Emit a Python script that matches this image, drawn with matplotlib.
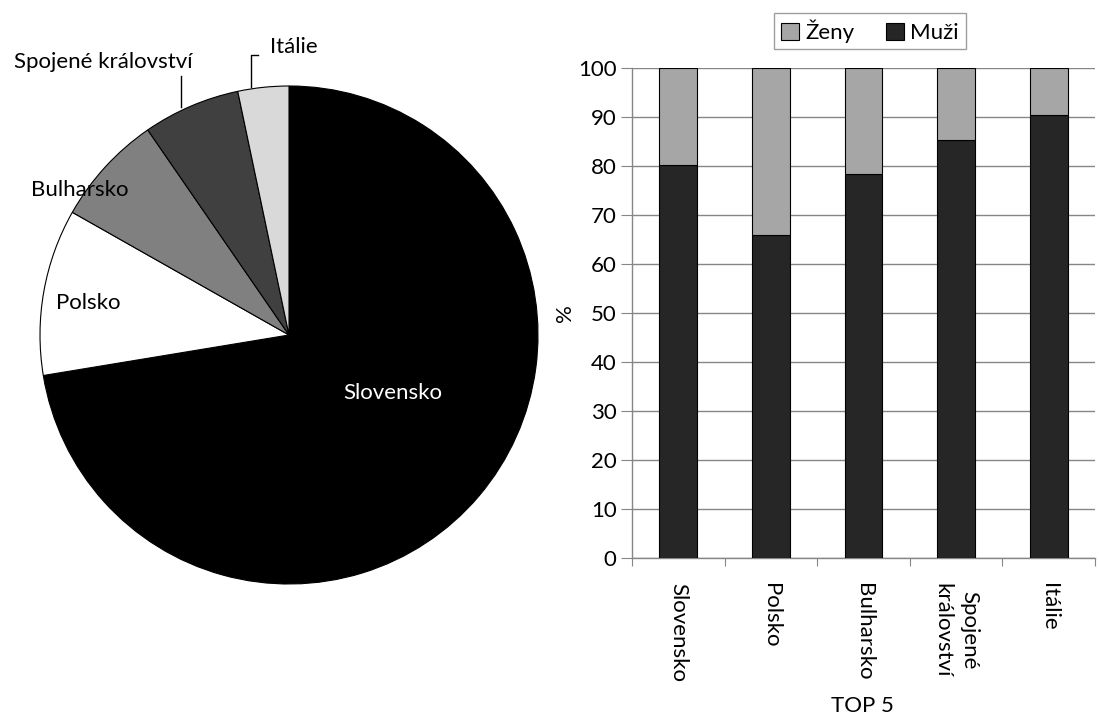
import matplotlib
matplotlib.use('Agg')
import matplotlib.pyplot as plt
import numpy as np

plt.rcParams['font.family'] = ['Lato', 'DejaVu Sans']

# pie data (share of foreigners, %)
countries = ['Slovensko', 'Polsko', 'Bulharsko', 'Spojené království', 'Itálie']
shares = [72.4, 10.8, 7.2, 6.3, 3.3]
pie_colors = ['#000000', '#ffffff', '#808080', '#404040', '#d9d9d9']

# bar data (TOP 5, % by sex)
bar_labels = ['Slovensko', 'Polsko', 'Bulharsko', 'Spojené\nkrálovství', 'Itálie']
muzi = [80.3, 66.0, 78.3, 85.4, 90.5]
zeny = [19.7, 34.0, 21.7, 14.6, 9.5]

fig = plt.figure(figsize=(10.99, 7.22), dpi=100)

# ---- pie ----
ax1 = fig.add_axes([40/1099, 138/722, 498/1099, 498/722])
ax1.pie(shares, colors=pie_colors, startangle=90, counterclock=False,
        radius=1, wedgeprops=dict(edgecolor='black', linewidth=0.8))
ax1.set_xlim(-1, 1)
ax1.set_ylim(-1, 1)
ax1.set_aspect('equal')
ax1.axis('off')

fs = 16
ax1.text(0.418, -0.233, 'Slovensko', color='white', fontsize=fs, ha='center', va='center')
ax1.text(-0.807, 0.128, 'Polsko', color='black', fontsize=fs, ha='center', va='center')
ax1.text(-0.839, 0.582, 'Bulharsko', color='black', fontsize=fs, ha='center', va='center')
ax1.text(-0.747, 1.096, 'Spojené království', color='black', fontsize=fs, ha='center', va='center', clip_on=False)
ax1.text(-0.078, 1.157, 'Itálie', color='black', fontsize=fs, ha='left', va='center', clip_on=False)
ax1.plot([-0.434, -0.434], [1.040, 0.916], color='black', lw=1, clip_on=False)
ax1.plot([-0.125, -0.153, -0.153], [1.124, 1.124, 0.996], color='black', lw=1, clip_on=False)

# ---- stacked bars ----
ax2 = fig.add_axes([632/1099, 164/722, 463/1099, 490/722])
x = np.arange(len(bar_labels))
w = 0.41
ax2.bar(x, muzi, w, color='#262626', edgecolor='black', linewidth=0.8, label='Muži', zorder=3)
ax2.bar(x, zeny, w, bottom=muzi, color='#a6a6a6', edgecolor='black', linewidth=0.8, label='Ženy', zorder=3)

ax2.set_xlim(-0.5, len(bar_labels) - 0.5)
ax2.set_ylim(0, 100)
ax2.set_yticks(range(0, 101, 10))
ax2.yaxis.grid(True, color='#868686', linewidth=1, zorder=0)
for s in ['top', 'right']:
    ax2.spines[s].set_visible(False)
for s in ['left', 'bottom']:
    ax2.spines[s].set_color('#868686')
    ax2.spines[s].set_linewidth(1)

ax2.set_xticks(np.arange(-0.5, len(bar_labels), 1.0))
ax2.set_xticklabels([])
ax2.set_xticks(x, minor=True)
ax2.set_xticklabels(bar_labels, minor=True, rotation=-90, fontsize=fs, va='top', ha='center',
                    linespacing=1.45)
ax2.tick_params(axis='x', which='major', length=6, color='#868686', direction='out')
ax2.tick_params(axis='x', which='minor', length=0, pad=18)
ax2.tick_params(axis='y', length=8, color='#868686', labelsize=fs, pad=3)

ax2.set_ylabel('%', fontsize=fs, labelpad=2)
fig.text(862/1099, 1 - 706/722, 'TOP 5', fontsize=fs, ha='center', va='center')

handles, labels = ax2.get_legend_handles_labels()
leg = ax2.legend(handles[::-1], labels[::-1], loc='center', bbox_to_anchor=(870/1099, 691/722),
                 bbox_transform=fig.transFigure, ncol=2, fontsize=fs, frameon=True, fancybox=False,
                 handlelength=0.8, handleheight=0.8, handletextpad=0.3, columnspacing=1.4,
                 borderpad=0.3)
leg.get_frame().set_edgecolor('#868686')
leg.get_frame().set_linewidth(1)

fig.savefig('out.png', dpi=100)
